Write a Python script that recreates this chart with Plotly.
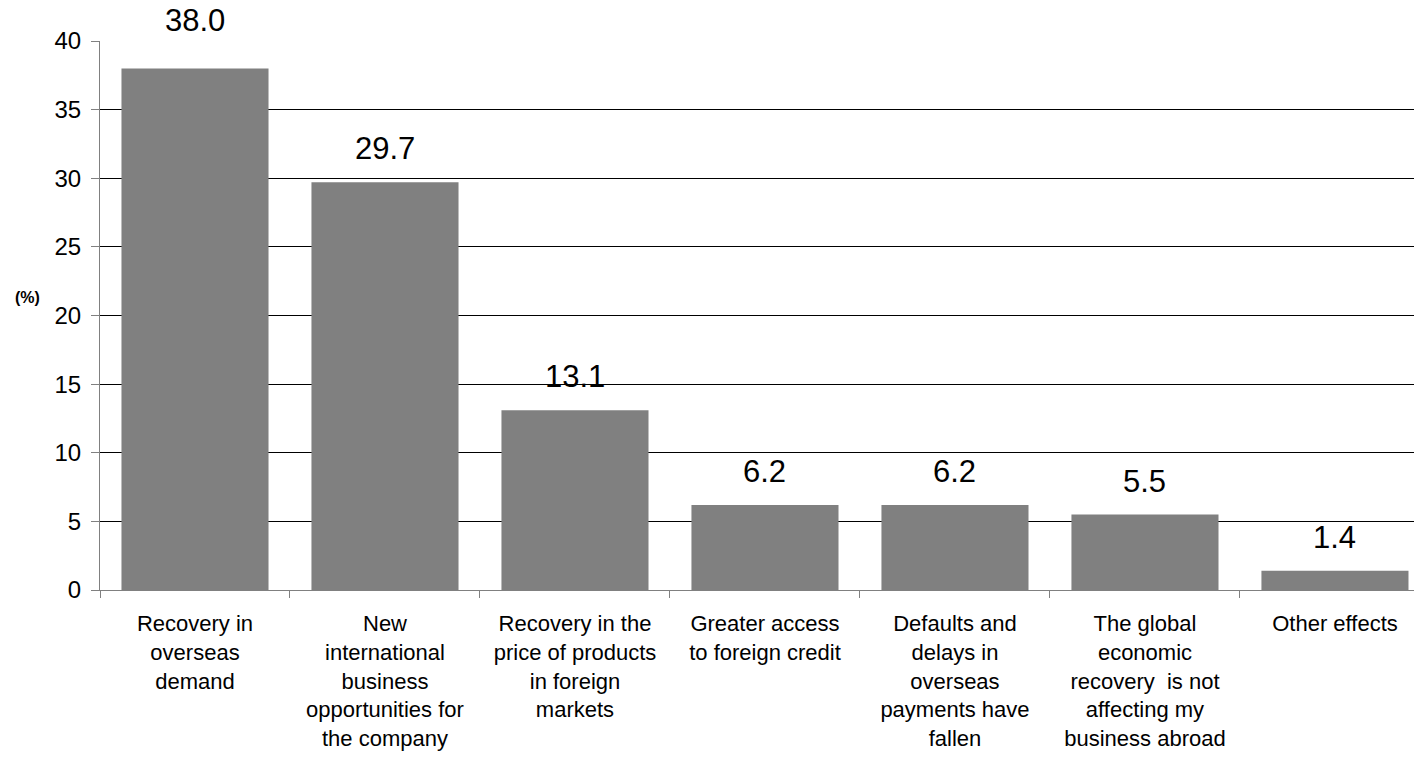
import plotly.graph_objects as go

categories = [
    "Recovery in<br>overseas<br>demand",
    "New<br>international<br>business<br>opportunities for<br>the company",
    "Recovery in the<br>price of products<br>in foreign<br>markets",
    "Greater access<br>to foreign credit",
    "Defaults and<br>delays in<br>overseas<br>payments have<br>fallen",
    "The global<br>economic<br>recovery  is not<br>affecting my<br>business abroad",
    "Other effects",
]
values = [38.0, 29.7, 13.1, 6.2, 6.2, 5.5, 1.4]
value_labels = ["38.0", "29.7", "13.1", "6.2", "6.2", "5.5", "1.4"]
label_shift = [28, 14, 14, 14, 14, 14, 14]
y_ticks = [0, 5, 10, 15, 20, 25, 30, 35, 40]

FONT = "Arial, Liberation Sans, sans-serif"

fig = go.Figure()
fig.add_trace(go.Bar(
    x=categories,
    y=values,
    marker=dict(color="#808080", line=dict(width=0)),
    hoverinfo="skip",
))

for c, v, t, s in zip(categories, values, value_labels, label_shift):
    fig.add_annotation(
        x=c, y=v, text=t, showarrow=False, yanchor="bottom", yshift=s,
        font=dict(family=FONT, size=31, color="#000000"),
    )

fig.add_annotation(
    xref="paper", yref="paper", x=-0.055, y=0.5, text="<b>(%)</b>",
    showarrow=False, xanchor="center", yanchor="middle", yshift=18,
    font=dict(family=FONT, size=16, color="#000000"),
)

fig.update_layout(
    width=1414, height=757,
    margin=dict(l=100, r=0, t=41, b=167),
    paper_bgcolor="white", plot_bgcolor="white",
    bargap=0.226,
    showlegend=False,
    font=dict(family=FONT, color="#000000"),
)
fig.update_xaxes(
    type="category",
    range=[-0.5, 6.416],
    tickson="boundaries",
    ticks="outside", ticklen=7, tickcolor="#808080", tickwidth=1,
    showline=True, linecolor="#808080", linewidth=1,
    showgrid=False, zeroline=False,
    tickangle=0,
    tickfont=dict(family=FONT, size=22, color="#000000"),
    ticklabelstandoff=14,
)
fig.update_yaxes(
    range=[0, 40],
    tickmode="array", tickvals=y_ticks,
    ticks="outside", ticklen=8, tickcolor="#808080", tickwidth=1,
    showline=True, linecolor="#808080", linewidth=1,
    showgrid=True, gridcolor="#000000", gridwidth=1,
    zeroline=False,
    tickfont=dict(family=FONT, size=24, color="#000000"),
    ticklabelstandoff=5,
)

fig.write_html(
    "out.html",
    config={"displayModeBar": False},
    post_script="document.body.style.margin='0';",
)
